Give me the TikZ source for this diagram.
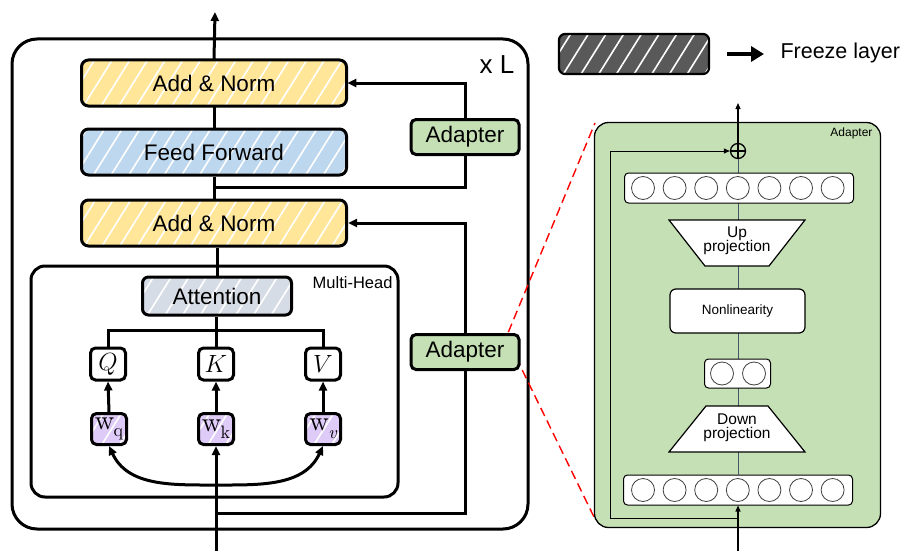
\documentclass[tikz,border=0pt]{standalone}
\usepackage[no-math]{fontspec}
\setmainfont{Liberation Sans}
\newfontfamily\lmr{lmroman10-regular}[Extension=.otf, ItalicFont=lmroman10-italic]
\usetikzlibrary{arrows.meta,patterns.meta,shapes.geometric}
\definecolor{cyel}{HTML}{FFE699}
\definecolor{cblue}{HTML}{BDD7EE}
\definecolor{cgray}{HTML}{D6DCE5}
\definecolor{cpurp}{HTML}{DFCBF8}
\definecolor{cgreen}{HTML}{C5E0B4}
\definecolor{cdark}{HTML}{595959}
\definecolor{cline}{HTML}{44546A}
\newcommand\myfs[1]{\fontsize{#1}{#1}\selectfont}
\newcommand\wsub[1]{{\lmr\myfs{27}w\kern-0.5pt\raisebox{-0.28em}{\myfs{18}#1}}}
\tikzset{
  thickline/.style={line width=3pt},
  blk/.style={draw, line width=3pt, rounded corners=7pt, inner sep=0pt},
  hatch/.style={preaction={fill=#1}, pattern={Lines[angle=58,distance=15pt,line width=1.6pt]}, pattern color=white},
  arr/.style={-{Triangle[length=9pt,width=8pt]}, line width=3pt},
  bigblk/.style={blk, minimum width=265pt, minimum height=46pt, font=\myfs{22.5}},
  qkv/.style={blk, fill=white, minimum width=35pt, minimum height=32pt, rounded corners=5pt, font=\myfs{24}},
  wbox/.style={blk, hatch=cpurp, minimum width=35pt, minimum height=31pt, rounded corners=5pt},
  adbox/.style={blk, fill=cgreen, minimum width=108pt, minimum height=35pt, rounded corners=5pt, font=\myfs{22.5}},
  thin/.style={line width=1.2pt},
  tarr/.style={-{Triangle[length=6pt,width=5pt]}, line width=1.2pt},
  bar/.style={draw, fill=white, rounded corners=4pt, line width=1pt, inner sep=0pt},
  neuron/.style={circle, draw=black!75, line width=0.8pt, minimum size=23pt, inner sep=0pt},
}
\begin{document}
\begin{tikzpicture}[x=1pt,y=-1pt]
\useasboundingbox (0,0) rectangle (907,551);

% ---------- left part ----------
\draw[thickline, rounded corners=25pt] (12,39) rectangle (528,529);
\node[font=\myfs{26}] (xl) at (497,65) {x L};
\draw[thickline, rounded corners=14pt] (31,266) rectangle (398,497);
\node[font=\myfs{16.5}, anchor=east] (mh) at (396,283) {Multi-Head};

% red dashed zoom lines (behind adapter)
\coordinate (z1) at (503,345);
\coordinate (z2) at (510,345);
\coordinate (p1) at (595,123);
\coordinate (p2) at (595,519);
\draw[red, line width=1.4pt, dash pattern=on 9pt off 5pt] (z1) -- (p1);
\draw[red, line width=1.4pt, dash pattern=on 9pt off 5pt] (z2) -- (p2);

\node[bigblk, hatch=cyel] (an1) at (214,83) {Add \& Norm};
\node[bigblk, hatch=cblue] (ff) at (214,152) {Feed Forward};
\node[bigblk, hatch=cyel] (an2) at (214,223) {Add \& Norm};
\node[blk, hatch=cgray, minimum width=149pt, minimum height=38pt, rounded corners=6pt, font=\myfs{22.5}] (att) at (217,296) {Attention};

\node[qkv] (q) at (108,364) {$Q$};
\node[qkv] (k) at (216,364) {$K$};
\node[qkv] (v) at (323,364) {$V$};
\node[wbox] (wq) at (109,429) {\wsub{q}};
\node[wbox] (wk) at (216,429) {\wsub{k}};
\node[wbox] (wv) at (323,429) {\wsub{\itshape v}};

\node[adbox] (ad1) at (465,137) {Adapter};
\node[adbox] (ad2) at (465,352) {Adapter};

\coordinate (top) at (215,12);
\coordinate (in) at (216,551);
\coordinate (j1) at (215,187);
\coordinate (j2) at (216,513);
\coordinate (cb) at (216,485);

\draw[arr] (an1.north) -- (top);
\draw[thickline] (ff.north) -- (an1.south);
\draw[thickline] (an2.north) -- (ff.south);
\draw[thickline] (att.north) -- (att.north |- an2.south);
\draw[thickline] (k.north) -- (k.north |- att.south);
\draw[thickline] (q.north) -- ++(0,-16) -| (v.north);
\draw[arr] (wq.north) -- (q.south);
\draw[arr] (wk.north) -- (k.south);
\draw[arr] (wv.north) -- (v.south);
\draw[arr] (in) -- (wk.south);
\draw[arr] (cb) to[out=180,in=-65] (wq.south);
\draw[arr] (cb) to[out=0,in=-115] (wv.south);
\draw[arr] (ad1.north) |- (an1.east);
\draw[thickline] (ad1.south) |- (j1);
\draw[arr] (ad2.north) |- (an2.east);
\draw[thickline] (ad2.south) |- (j2);

% ---------- legend ----------
\node[draw, line width=2.2pt, rounded corners=6pt, hatch=cdark, minimum width=150pt, minimum height=40pt] (leg) at (634,54) {};
\coordinate (la0) at (727,54);
\coordinate (la1) at (764,54);
\draw[-{Triangle[length=13pt,width=15pt]}, line width=4.5pt] (la0) -- (la1);
\node[font=\myfs{21.5}, anchor=west] (fl) at (777,53) {Freeze layer};

% ---------- adapter detail ----------
\node[draw, line width=1.3pt, fill=cgreen, rounded corners=14pt, minimum width=286pt, minimum height=405pt] (panel) at (737.5,325) {};
\node[font=\myfs{12}, anchor=east] (plab) at (876,133) {Adapter};

\node[circle, draw, line width=1.3pt, minimum size=15pt, inner sep=0pt] (plus) at (738,151) {};
\draw[line width=1.3pt] (plus.north) -- (plus.south);
\draw[line width=1.3pt] (plus.west) -- (plus.east);

\node[bar, minimum width=229pt, minimum height=30pt] (bb) at (738,490) {};
\draw[line width=1pt, cline] (bb.north) -- (plus.south);

\node[bar, minimum width=229pt, minimum height=30pt] (tb) at (739,188) {};
\foreach \i in {0,...,6} {
  \node[neuron] (tc\i) at ({643+31.6*\i},188) {};
  \node[neuron] (bc\i) at ({643+31.6*\i},490) {};
}
\draw[fill=white, thin] (669,220) -- (805,220) -- (769,266) -- (705,266) -- cycle;
\node[align=center, font=\myfs{15.5}, inner sep=0pt] (up) at (737,241) {Up\\[-1pt]projection};
\node[draw, fill=white, thin, rounded corners=6pt, minimum width=135pt, minimum height=44pt] (nl) at (737.5,311) {};
\node[font=\myfs{13.5}] (nltext) at (737.5,311) {Nonlinearity};
\node[bar, minimum width=66pt, minimum height=29pt] (sb) at (737.5,373.5) {};
\node[neuron] (sc0) at (722,373.5) {};
\node[neuron] (sc1) at (754,373.5) {};
\draw[fill=white, thin] (706,406) -- (768,406) -- (805,452) -- (669,452) -- cycle;
\node[align=center, font=\myfs{15.5}, inner sep=0pt] (down) at (737,428) {Down\\[-1pt]projection};

\coordinate (ptop) at (738,103);
\coordinate (sk0) at (738,518);
\coordinate (sk1) at (610,518);
\coordinate (sk2) at (610,151);
\coordinate (pin) at (738,551);
\draw[tarr] (plus.north) -- (ptop);
\draw[tarr, line width=1pt] (sk0) -- (sk1) -- (sk2) -- (plus.west);
\draw[tarr] (pin) -- (bb.south);
\end{tikzpicture}
\end{document}
